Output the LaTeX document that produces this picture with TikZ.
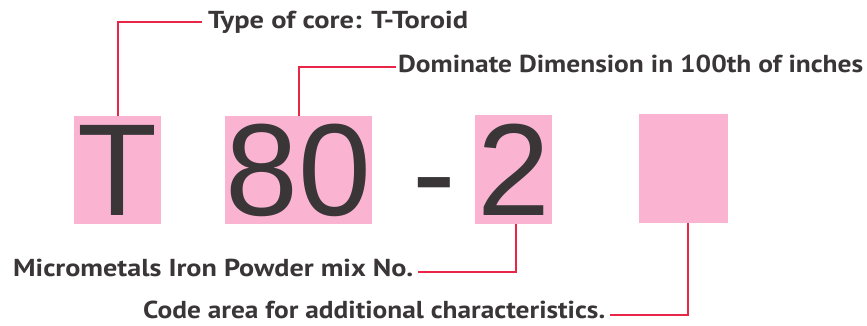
\documentclass[tikz,border=0pt]{standalone}
\usepackage{fontspec}
\usepackage{graphicx}
\setmainfont{PT Sans}
\newfontfamily\digitfont{Liberation Sans}
\definecolor{pinkfill}{RGB}{250,180,210}
\definecolor{leadred}{RGB}{234,38,72}
\definecolor{inkgray}{RGB}{58,54,56}
\newcommand\fitto[2]{\resizebox{#1}{\height}{#2}}
\begin{document}
\begin{tikzpicture}[x=1pt,y=-1pt,
  codebox/.style={fill=pinkfill, inner sep=0pt, text=inkgray,
    font=\digitfont\fontsize{131}{131}\selectfont},
  bigchar/.style={inner sep=0pt, text=inkgray,
    font=\digitfont\fontsize{131}{131}\selectfont},
  caption/.style={inner sep=0pt, text=inkgray,
    font=\bfseries\fontsize{24.5}{24.5}\selectfont},
  leader/.style={draw=leadred, line width=2pt}]
\fill[white] (0,0) rectangle (867,326);
\useasboundingbox (0,0) rectangle (867,326);
% code boxes
\node[codebox, minimum width=87pt, minimum height=108pt] (T) at (117.5,170) {T};
\node[codebox, minimum width=147pt, minimum height=108pt] (eighty) at (298.5,170) {80};
\node[bigchar, anchor=base] (dash) at (434,217) {-};
\node[codebox, minimum width=77pt, minimum height=108pt] (two) at (513.5,169.5) {2};
\node[codebox, minimum width=89pt, minimum height=109pt] (code) at (683.5,168.5) {};
% captions
\node[caption, anchor=base west] (t1) at (208,29) {\fitto{260pt}{Type of core: T-Toroid}};
\node[caption, anchor=base west] (t2) at (398,73) {\fitto{465pt}{Dominate Dimension in 100th of inches}};
\node[caption, anchor=base west] (t3) at (13,276) {\fitto{400pt}{Micrometals Iron Powder mix No.}};
\node[caption, anchor=base west] (t4) at (143,318) {\fitto{462pt}{Code area for additional characteristics.}};
% leaders
\draw[leader] (T.north) |- ([xshift=-6pt,yshift=7pt]t1.base west);
\draw[leader] (eighty.north) |- ([xshift=-2pt,yshift=6pt]t2.base west);
\draw[leader] ([xshift=2.5pt]two.south) |- ([xshift=5pt,yshift=4pt]t3.base east);
\draw[leader] ([xshift=4.5pt]code.south) |- ([xshift=5pt,yshift=3pt]t4.base east);
\end{tikzpicture}
\end{document}
